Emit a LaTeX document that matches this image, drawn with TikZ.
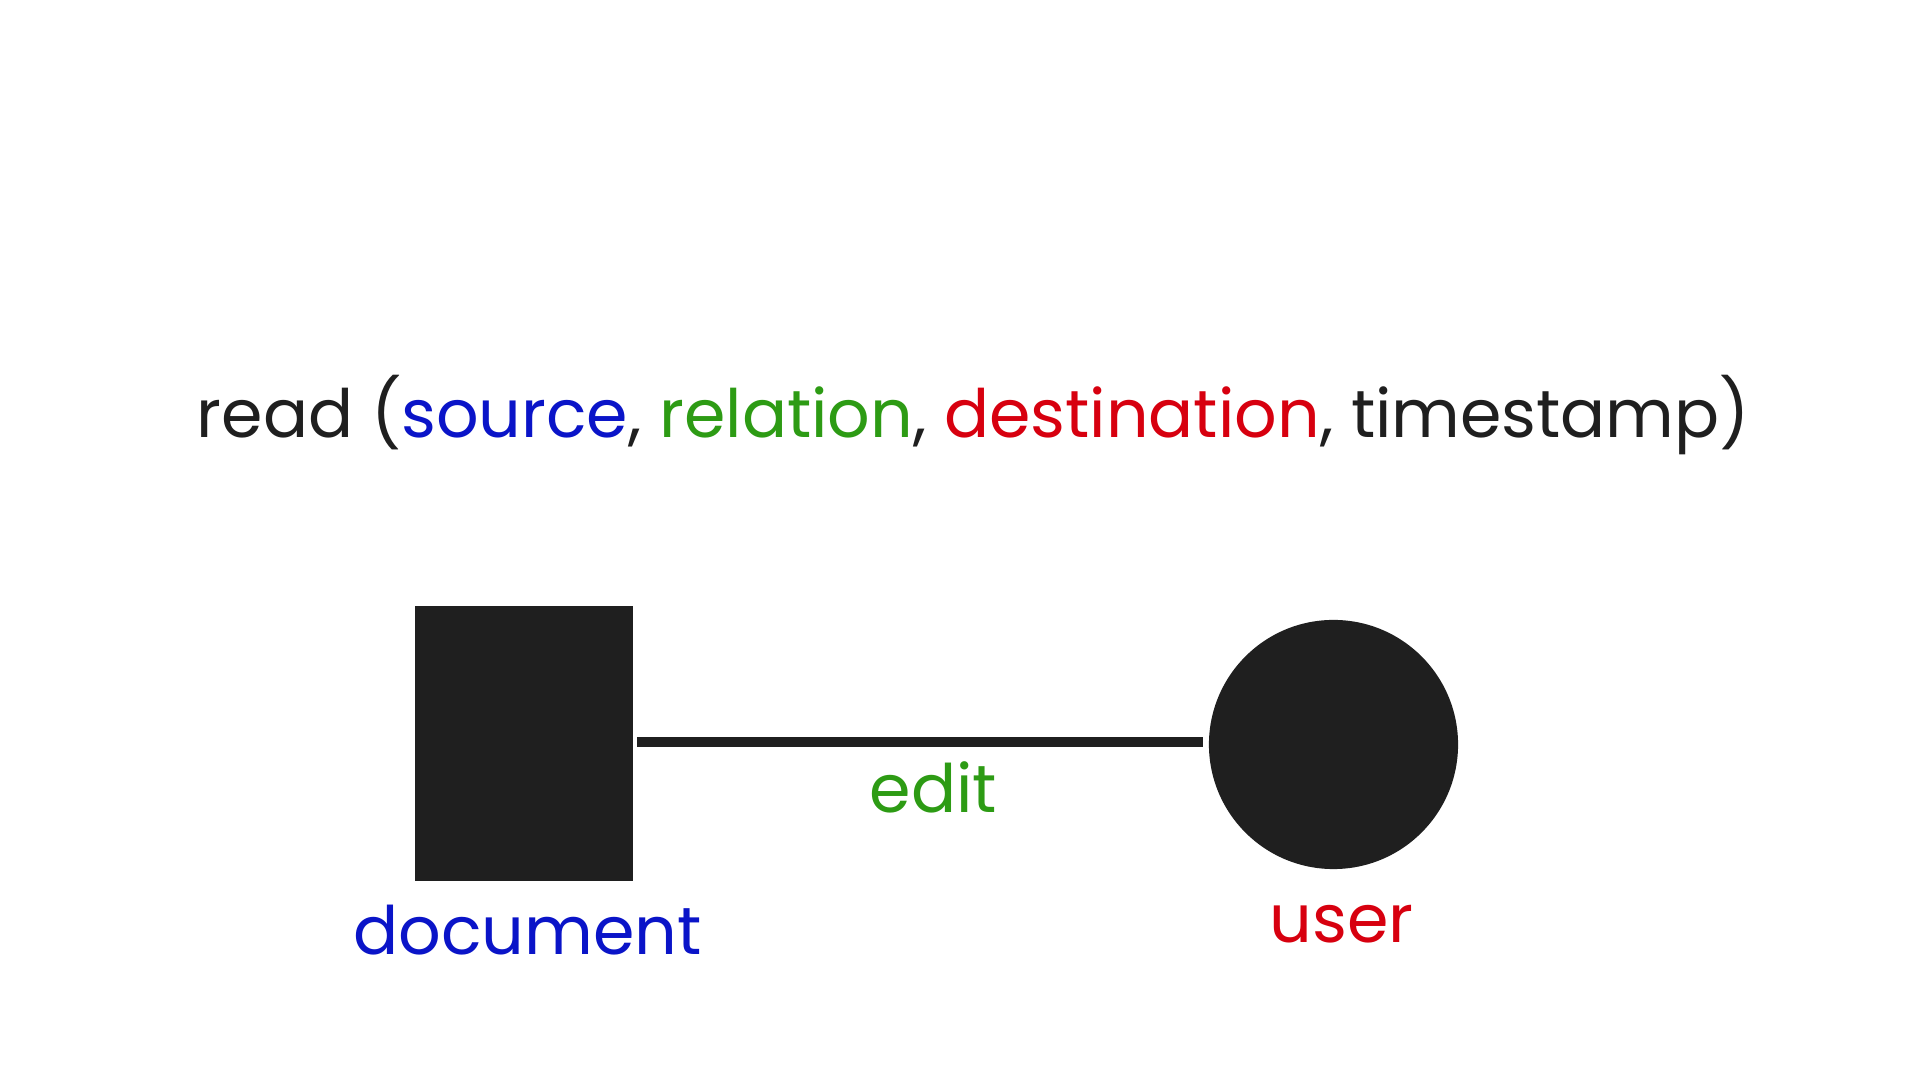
\documentclass[tikz,border=0pt]{standalone}
\usepackage{fontspec}
\setmainfont{Poppins}
\definecolor{ink}{RGB}{31,31,31}
\definecolor{srcblue}{RGB}{10,20,200}
\definecolor{relgreen}{RGB}{45,155,20}
\definecolor{dstred}{RGB}{215,0,15}
\tikzset{
  shapefill/.style={fill=ink, draw=none, inner sep=0pt},
  edgeline/.style={draw=ink, line width=3pt},
  titletext/.style={anchor=base, inner sep=0pt, text=ink, font=\fontsize{18.97}{23}\selectfont},
  labeltext/.style={anchor=base, inner sep=0pt, font=\fontsize{19}{23}\selectfont}
}
\begin{document}
\begin{tikzpicture}[x=0.01cm, y=-0.01cm]
\useasboundingbox[fill=white] (0,0) rectangle (1920,1080);
\node[titletext] (title) at (973.5,438) {read (\textcolor{srcblue}{source}, \textcolor{relgreen}{relation}, \textcolor{dstred}{destination}, timestamp)};
\node[shapefill, rectangle, minimum width=2.18cm, minimum height=2.75cm] (doc) at (524,743.5) {};
\node[shapefill, circle, minimum size=2.49cm] (user) at (1333.5,744.5) {};
\coordinate (a) at (637,742);
\coordinate (b) at (1203,742);
\draw[edgeline] (a) -- (b);
\node[labeltext, text=relgreen] (edit) at (933.5,813) {edit};
\node[labeltext, text=srcblue] (doclabel) at (527.5,955) {document};
\node[labeltext, text=dstred] (userlabel) at (1341.5,943) {user};
\end{tikzpicture}
\end{document}
